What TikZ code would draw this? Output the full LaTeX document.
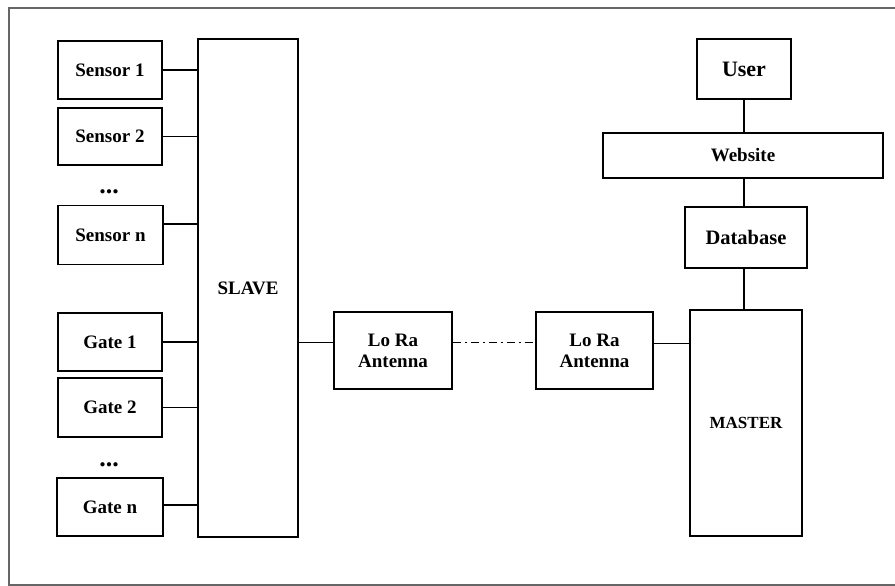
\documentclass[tikz,border=0pt]{standalone}
\usepackage{fontspec}
\setmainfont{Liberation Serif}
\usepackage{tikz}

\begin{document}
\begin{tikzpicture}[x=1pt, y=-1pt,
    box/.style={draw, line width=1.3pt, font=\bfseries\fontsize{19}{21}\selectfont, align=center, inner sep=0pt},
    link/.style={line width=1.3pt}]
                    \useasboundingbox (0,0) rectangle (895,586);
                    % Frame
                    \draw[gray!80!black, line width=1.5pt] (895,8) -- (9,8) -- (9,585) -- (895,585);

                    % Sensors and gates
                    \node[box, minimum width=104, minimum height=58] (sensor1) at (110,70) {Sensor 1};
                    \node[box, minimum width=104, minimum height=57] (sensor2) at (110,136.5) {Sensor 2};
                    \node[font=\bfseries\fontsize{26}{26}\selectfont] (dots1) at (109,192) {...};
                    \node[box, minimum width=105, minimum height=59] (sensorn) at (110.5,235) {Sensor n};
                    \node[box, minimum width=104, minimum height=58] (gate1) at (110,342) {Gate 1};
                    \node[box, minimum width=104, minimum height=59] (gate2) at (110,407.5) {Gate 2};
                    \node[font=\bfseries\fontsize{26}{26}\selectfont] (dots2) at (109,465) {...};
                    \node[box, minimum width=106, minimum height=58] (gaten) at (110,507) {Gate n};

                    % Slave side
                    \node[box, minimum width=100, minimum height=498] (slave) at (248,288) {SLAVE};
                    \node[box, minimum width=118, minimum height=77] (lora1) at (393,350.5) {Lo Ra\\Antenna};

                    % Master side
                    \node[box, minimum width=117, minimum height=77] (lora2) at (594.5,350.5) {Lo Ra\\Antenna};
                    \node[box, minimum width=112, minimum height=226, font=\bfseries\fontsize{17}{20}\selectfont] (master) at (746,423) {MASTER};
                    \node[box, minimum width=94, minimum height=60, font=\bfseries\fontsize{22}{24}\selectfont] (user) at (744,69) {User};
                    \node[box, minimum width=280, minimum height=45] (website) at (743,155.5) {Website};
                    \node[box, minimum width=122, minimum height=61, font=\bfseries\fontsize{20.5}{22}\selectfont] (database) at (746,237.5) {Database};

                    % Connections
                    \draw[link] (sensor1.east) -- (sensor1.east -| slave.west);
                    \draw[link] (sensor2.east) -- (sensor2.east -| slave.west);
                    \draw[link] ([yshift=11pt]sensorn.east) -- ([yshift=11pt]sensorn.east -| slave.west);
                    \draw[link] (gate1.east) -- (gate1.east -| slave.west);
                    \draw[link] (gate2.east) -- (gate2.east -| slave.west);
                    \draw[link] ([yshift=2pt]gaten.east) -- ([yshift=2pt]gaten.east -| slave.west);
                    \draw[link] ([yshift=8pt]lora1.west -| slave.east) -- ([yshift=8pt]lora1.west);
                    \draw[link, dash pattern=on 8pt off 4pt on 2pt off 4pt] ([yshift=8pt]lora1.east) -- ([yshift=8pt]lora2.west);
                    \draw[link] ([yshift=7pt]lora2.east) -- ([yshift=7pt]lora2.east -| master.west);
                    \draw[link] (user.south) -- (user.south |- website.north);
                    \draw[link] (user.south |- website.south) -- (user.south |- database.north);
                    \draw[link] (user.south |- database.south) -- (user.south |- master.north);
                \end{tikzpicture}
\end{document}
